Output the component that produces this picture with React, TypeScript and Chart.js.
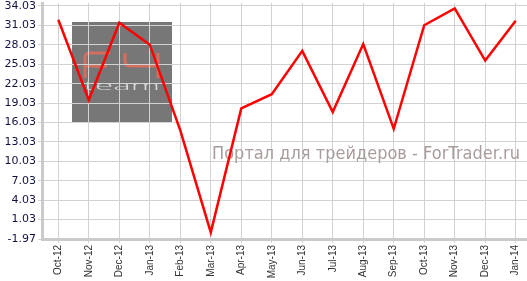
import React, { useEffect, useRef } from "react";
import { Chart, registerables } from "chart.js";

Chart.register(...registerables);

const categories: string[] = [
  "Oct-12", "Nov-12", "Dec-12", "Jan-13", "Feb-13", "Mar-13", "Apr-13", "May-13",
  "Jun-13", "Jul-13", "Aug-13", "Sep-13", "Oct-13", "Nov-13", "Dec-13", "Jan-14",
];
const values: number[] = [
  31.9, 19.5, 31.45, 28.05, 14.8, -0.95, 18.2, 20.4,
  27.1, 17.65, 28.15, 15.05, 31.05, 33.65, 25.6, 31.75,
];
const yTicks: number[] = [-1.97, 1.03, 4.03, 7.03, 10.03, 13.03, 16.03, 19.03, 22.03, 25.03, 28.03, 31.03, 34.03];
const watermark = "Портал для трейдеров - ForTrader.ru";

const decorPlugin = {
  id: "decor",
  beforeDraw(chart: any) {
    const ctx = chart.ctx as CanvasRenderingContext2D;
    ctx.save();
    // logo square
    ctx.fillStyle = "#777777";
    ctx.fillRect(72, 22, 100, 100);
    // FX letters
    ctx.strokeStyle = "#d46f60";
    ctx.lineWidth = 3;
    ctx.lineCap = "butt";
    ctx.lineJoin = "round";
    ctx.beginPath();
    ctx.moveTo(85, 78);
    ctx.lineTo(85, 58);
    ctx.quadraticCurveTo(85, 53, 90, 53);
    ctx.lineTo(110, 53);
    ctx.moveTo(85, 66);
    ctx.lineTo(107, 66);
    ctx.moveTo(125, 53);
    ctx.lineTo(125, 61);
    ctx.quadraticCurveTo(125, 66, 130, 66);
    ctx.lineTo(158, 66);
    ctx.moveTo(158, 53);
    ctx.lineTo(158, 78);
    ctx.stroke();
    // team
    ctx.fillStyle = "#dcdcdc";
    ctx.font = "300 12px 'Open Sans', 'DejaVu Sans', sans-serif";
    ctx.textBaseline = "alphabetic";
    const tw = ctx.measureText("team").width;
    ctx.translate(84, 90);
    ctx.scale(76 / tw, 1);
    ctx.fillText("team", 0, 0);
    ctx.restore();
  },
  beforeDatasetsDraw(chart: any) {
    const ctx = chart.ctx as CanvasRenderingContext2D;
    ctx.save();
    ctx.fillStyle = "#a99c9c";
    ctx.font = "18px 'DejaVu Sans', sans-serif";
    ctx.textBaseline = "alphabetic";
    const w = ctx.measureText(watermark).width;
    ctx.translate(212, 159);
    ctx.scale(308 / w, 1);
    ctx.fillText(watermark, 0, 0);
    ctx.restore();
  },
};

export default function App() {
  const ref = useRef<HTMLCanvasElement | null>(null);
  useEffect(() => {
    document.body.style.margin = "0";
    const canvas = ref.current!;
    const chart = new Chart(canvas, {
      type: "line",
      data: {
        datasets: [
          {
            data: values.map((v, i) => ({ x: i, y: v })),
            borderColor: "#ff0000",
            borderWidth: 2.5,
            pointRadius: 0,
            tension: 0,
            fill: false,
          },
        ],
      },
      options: {
        animation: false,
        responsive: false,
        maintainAspectRatio: false,
        layout: { padding: { top: 3, left: 0, right: 0, bottom: 0 } },
        plugins: { legend: { display: false }, tooltip: { enabled: false } },
        scales: {
          x: {
            type: "linear",
            min: -0.535,
            max: 15.37,
            afterBuildTicks: (scale: any) => {
              scale.ticks = categories.map((_, i) => ({ value: i }));
            },
            afterFit: (scale: any) => {
              scale.height = 42;
              scale.paddingLeft = 0;
              scale.paddingRight = 0;
            },
            grid: { color: "#d2d2d2", lineWidth: 1, tickLength: 4, drawTicks: true },
            border: { color: "#cacaca", width: 3 },
            ticks: {
              autoSkip: false,
              minRotation: 90,
              maxRotation: 90,
              padding: 2,
              color: "#333333",
              font: { family: "'Liberation Sans', Arial, sans-serif", size: 10 },
              callback: (v: any) => categories[v as number] ?? "",
            },
          },
          y: {
            type: "linear",
            min: -1.97,
            max: 34.49,
            afterBuildTicks: (scale: any) => {
              scale.ticks = yTicks.map((v) => ({ value: v }));
            },
            afterFit: (scale: any) => {
              scale.width = 42;
              scale.paddingTop = 0;
              scale.paddingBottom = 0;
            },
            grid: { color: "#d2d2d2", lineWidth: 1, tickLength: 4, drawTicks: true },
            border: { color: "#cacaca", width: 3 },
            ticks: {
              padding: 2,
              color: "#121240",
              font: { family: "'DejaVu Sans', Verdana, sans-serif", size: 11 },
              callback: (v: any) => Number(v).toFixed(2),
            },
          },
        },
      },
      plugins: [decorPlugin],
    } as any);
    return () => chart.destroy();
  }, []);
  return (
    <div style={{ position: "absolute", left: 0, top: 0, width: 527, height: 281 }}>
      <canvas ref={ref} width={527} height={281} style={{ display: "block" }} />
    </div>
  );
}
